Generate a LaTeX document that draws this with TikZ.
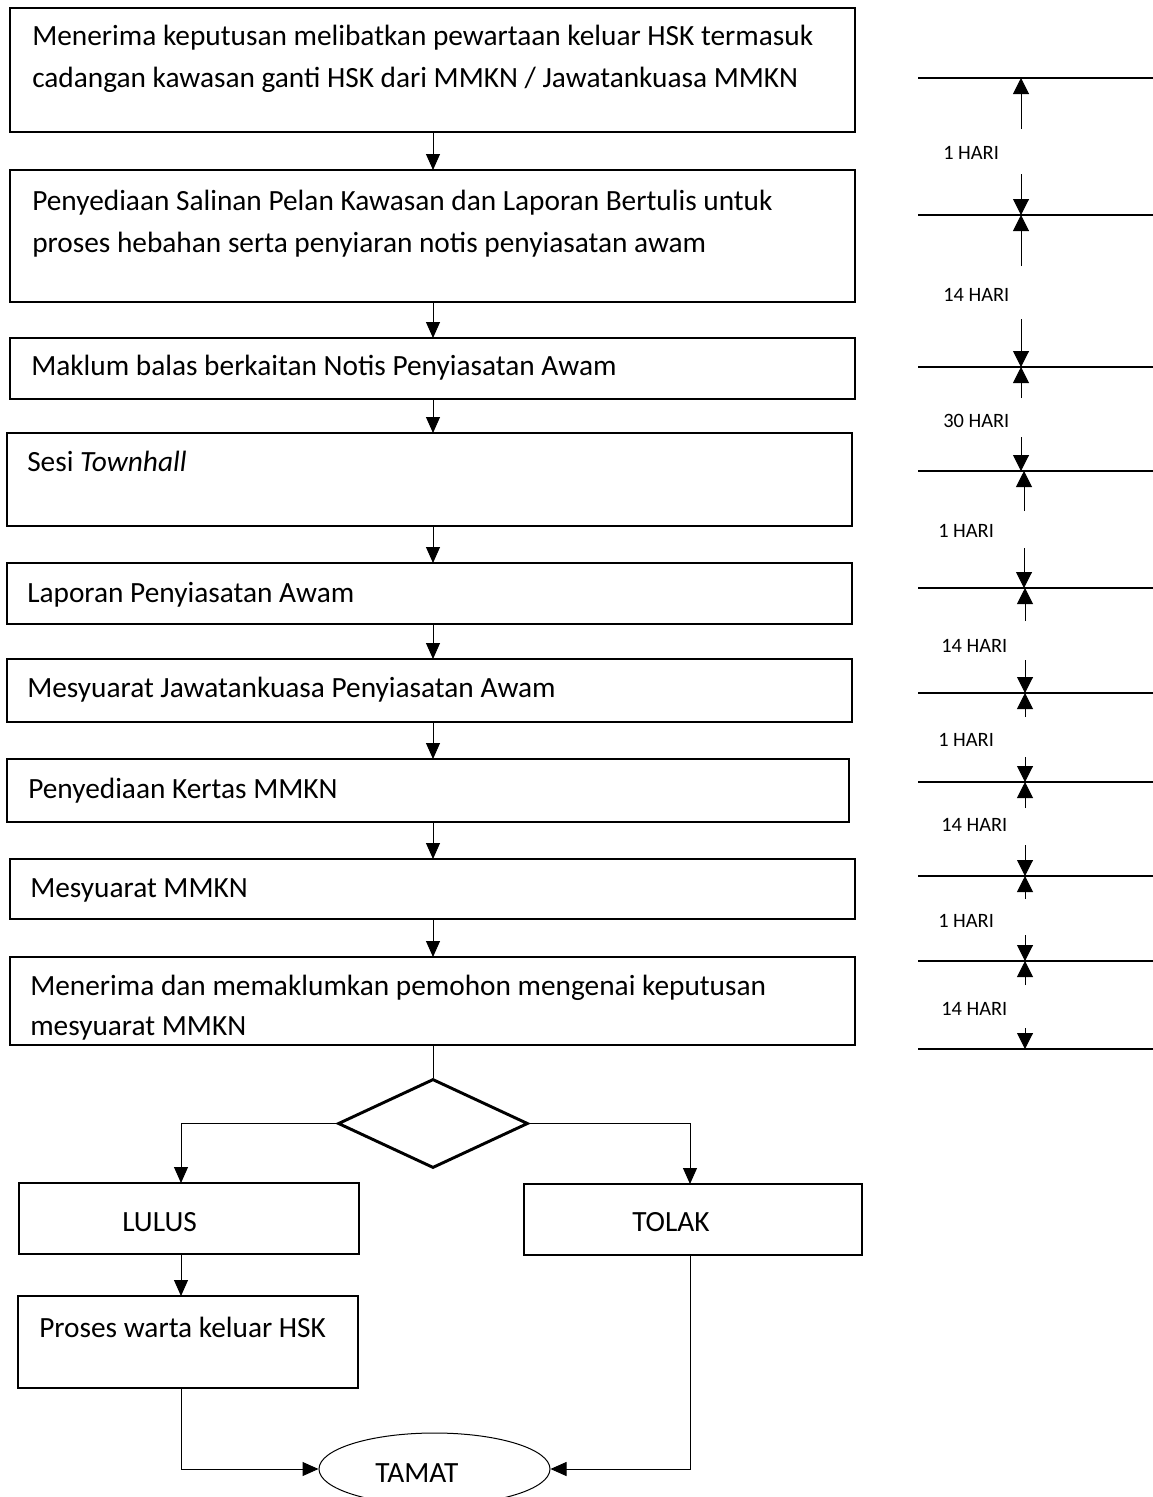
\documentclass[tikz,border=0pt]{standalone}
\usepackage{fontspec}
\setmainfont{Carlito}
\usetikzlibrary{arrows.meta,shapes.geometric,fit}
\begin{document}
\begin{tikzpicture}[x=0.75pt,y=-0.75pt,
  box/.style={draw, line width=0.9pt, inner sep=0pt, outer sep=0pt},
  txt/.style={anchor=base west, inner sep=0pt, font=\fontsize{22}{30}\selectfont},
  hari/.style={anchor=base west, inner sep=0pt, font=\fontsize{15.3}{18}\selectfont},
  flow/.style={line width=0.75pt, -{Triangle[length=12pt,width=10.5pt]}},
  plain/.style={line width=0.75pt},
  tick/.style={line width=0.75pt, -{Triangle[length=12pt,width=12pt]}},
  rulel/.style={line width=0.9pt}]
\clip (0,0) rectangle (1153,1497);
\fill[white] (0,0) rectangle (1153,1497);
% boxes
\node[box, fit={(10,8) (855,132)}] (b1) {};
\node[box, fit={(10,170) (855,302)}] (b2) {};
\node[box, fit={(10,338) (855,399)}] (b3) {};
\node[box, fit={(7,433) (852,526)}] (b4) {};
\node[box, fit={(7,563) (852,624)}] (b5) {};
\node[box, fit={(7,659) (852,722)}] (b6) {};
\node[box, fit={(7,759) (849,822)}] (b7) {};
\node[box, fit={(10,859) (855,919)}] (b8) {};
\node[box, fit={(10,957) (855,1045)}] (b9) {};
\node[box, fit={(19,1183) (359,1254)}] (lulus) {};
\node[box, fit={(524,1184) (862,1255)}] (tolak) {};
\node[box, fit={(18,1296) (358,1388)}] (proses) {};
\node[draw, diamond, line width=2.2pt, minimum width=142.5pt, minimum height=66.75pt, inner sep=0pt] (d) at (433,1123.5) {};
\node[draw, ellipse, line width=0.75pt, minimum width=173.25pt, minimum height=54pt, inner sep=0pt] (tamat) at (434.5,1469) {};
% texts
\node[txt] (t1a) at (32,45) {Menerima keputusan melibatkan pewartaan keluar HSK termasuk};
\node[txt] (t1b) at (32,87) {cadangan kawasan ganti HSK dari MMKN / Jawatankuasa MMKN};
\node[txt] (t2a) at (32,210) {Penyediaan Salinan Pelan Kawasan dan Laporan Bertulis untuk};
\node[txt] (t2b) at (32,252) {proses hebahan serta penyiaran notis penyiasatan awam};
\node[txt] (t3) at (31,375) {Maklum balas berkaitan Notis Penyiasatan Awam};
\node[txt] (t4) at (27,471) {Sesi \textit{Townhall}};
\node[txt] (t5) at (27,602) {Laporan Penyiasatan Awam};
\node[txt] (t6) at (27,697) {Mesyuarat Jawatankuasa Penyiasatan Awam};
\node[txt] (t7) at (28,798) {Penyediaan Kertas MMKN};
\node[txt] (t8) at (30,897) {Mesyuarat MMKN};
\node[txt] (t9a) at (30,995) {Menerima dan memaklumkan pemohon mengenai keputusan};
\node[txt] (t9b) at (30,1035) {mesyuarat MMKN};
\node[txt] (tl) at (122,1231) {LULUS};
\node[txt] (tt) at (632,1231) {TOLAK};
\node[txt] (tp) at (39,1337) {Proses warta keluar HSK};
\node[txt] (tm) at (375,1482) {TAMAT};
% connectors
\coordinate (ax) at (433,0);
\coordinate (lx) at (181,0);
\coordinate (rx) at (690,0);
\draw[flow] (b1.south -| ax) -- (b2.north -| ax);
\draw[flow] (b2.south -| ax) -- (b3.north -| ax);
\draw[flow] (b3.south -| ax) -- (b4.north -| ax);
\draw[flow] (b4.south -| ax) -- (b5.north -| ax);
\draw[flow] (b5.south -| ax) -- (b6.north -| ax);
\draw[flow] (b6.south -| ax) -- (b7.north -| ax);
\draw[flow] (b7.south -| ax) -- (b8.north -| ax);
\draw[flow] (b8.south -| ax) -- (b9.north -| ax);
\draw[plain] (b9.south -| ax) -- (d.north);
\draw[flow] (d.west) -| (lulus.north -| lx);
\draw[flow] (d.east) -| (tolak.north -| rx);
\draw[flow] (lulus.south -| lx) -- (proses.north -| lx);
\draw[flow] (proses.south -| lx) |- (tamat.west);
\draw[flow] (tolak.south -| rx) |- (tamat.east);
% timeline
\foreach \k/\y in {1/78,2/215,3/367,4/471,5/588,6/693,7/782,8/876,9/961,10/1049}{
  \coordinate (ll\k) at (918,\y);
  \coordinate (lr\k) at (1153,\y);
  \draw[rulel] (ll\k) -- (lr\k);
}
\foreach \i/\x/\ya/\u/\d/\yb/\lx/\ly/\t in {
  1/1021/78/129/174/215/943/159/1 HARI,
  2/1021/215/266/319/367/943/301/14 HARI,
  3/1021/367/398/437/471/943/427/30 HARI,
  4/1024/471/511/548/588/938/537/1 HARI,
  5/1025/588/621/660/693/941/652/14 HARI,
  6/1025/693/717/757/782/938/746/1 HARI,
  7/1025/782/808/845/876/941/831/14 HARI,
  8/1025/876/899/935/961/938/927/1 HARI,
  9/1025/961/985/1028/1049/941/1015/14 HARI}{
  \coordinate (ua\i) at (\x,\u);
  \coordinate (ut\i) at (\x,\ya);
  \coordinate (da\i) at (\x,\d);
  \coordinate (dt\i) at (\x,\yb);
  \draw[tick] (ua\i) -- (ut\i);
  \draw[tick] (da\i) -- (dt\i);
  \node[hari] (h\i) at (\lx,\ly) {\t};
}
\end{tikzpicture}
\end{document}
